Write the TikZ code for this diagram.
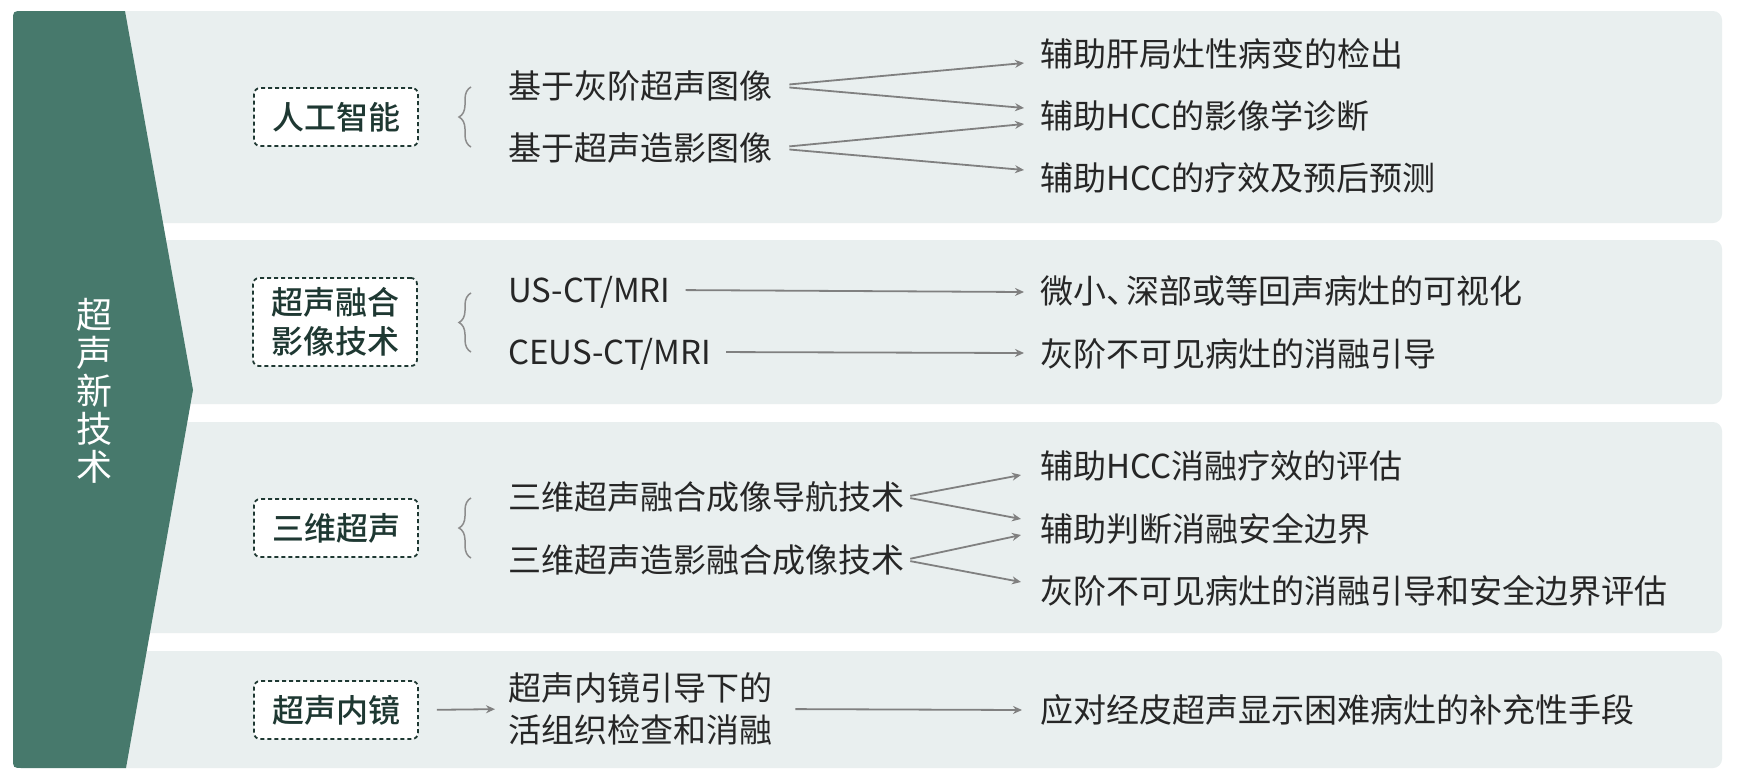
\documentclass[tikz,border=0pt]{standalone}
\usepackage{fontspec}
\setmainfont{Noto Sans CJK SC}
\newfontfamily\medfont{Noto Sans CJK SC Medium}
\usetikzlibrary{decorations.pathreplacing,arrows.meta,calc}
\definecolor{greenc}{RGB}{71,121,108}
\definecolor{panelc}{RGB}{233,239,239}
\definecolor{darkc}{RGB}{30,56,50}
\definecolor{textc}{RGB}{38,38,38}
\definecolor{arrowc}{RGB}{128,128,128}
\definecolor{bracec}{RGB}{140,140,140}
\begin{document}
\begin{tikzpicture}[x=1pt,y=-1pt,
  panel/.style={fill=panelc, rounded corners=9pt},
  catbox/.style={draw=darkc, dash pattern=on 4pt off 3pt, line width=1.8pt, fill=white,
    rounded corners=6pt, minimum width=164pt, minimum height=58pt, inner sep=0pt,
    font=\medfont\fontsize{32}{39}\selectfont, text=darkc, align=center},
  oneline/.style={text height=29pt, text depth=4pt},
  midtext/.style={anchor=west, inner sep=0pt, text=textc, font=\fontsize{33}{42}\selectfont, align=left},
  tgttext/.style={anchor=west, inner sep=0pt, text=textc, font=\fontsize{33}{42}\selectfont},
  arr/.style={draw=arrowc, line width=1.8pt, -{Stealth[length=9pt,width=8pt]}},
  br/.style={draw=bracec, line width=1.5pt, decorate, decoration={brace, amplitude=12pt}}]
\useasboundingbox (0,0) rectangle (1737,780);
\fill[white] (0,0) rectangle (1737,780);
% panels
\fill[panel] (100,11) rectangle (1722,223);
\fill[panel] (100,240) rectangle (1722,404);
\fill[panel] (100,422) rectangle (1722,633);
\fill[panel] (100,651) rectangle (1722,768);
% green band
\fill[greenc] (125,11) -- (193,390) -- (126,768) -- (23,768) .. controls (13,768) .. (13,758)
  -- (13,21) .. controls (13,11) .. (23,11) -- cycle;
\node[text=white, font=\fontsize{36}{38}\selectfont, align=center, inner sep=0pt] (title) at (94.5,391) {超\\声\\新\\技\\术};
% category boxes
\node[catbox] (c1) at (336,117) {人工智能};
\node[catbox, minimum height=88pt] (c2) at (335,322) {超声融合\\影像技术};
\node[catbox] (c3) at (336,528) {三维超声};
\node[catbox] (c4) at (336,710) {超声内镜};
% braces
\draw[br] (471,147) -- (471,87);
\draw[br] (471,352) -- (471,293);
\draw[br] (471,558) -- (471,498);
% middle texts
\node[midtext, oneline] (m1a) at (508,86) {基于灰阶超声图像};
\node[midtext, oneline] (m1b) at (508,148) {基于超声造影图像};
\node[midtext, oneline] (m2a) at (508,290) {US-CT/MRI};
\node[midtext, oneline] (m2b) at (508,352) {CEUS-CT/MRI};
\node[midtext, oneline] (m3a) at (508,497) {三维超声融合成像导航技术};
\node[midtext, oneline] (m3b) at (508,560) {三维超声造影融合成像技术};
\node[midtext] (m4) at (508,709) {超声内镜引导下的\\活组织检查和消融};
% targets
\node[tgttext, oneline] (t1a) at (1040,54) {辅助肝局灶性病变的检出};
\node[tgttext, oneline] (t1b) at (1040,116) {辅助HCC的影像学诊断};
\node[tgttext, oneline] (t1c) at (1040,178) {辅助HCC的疗效及预后预测};
\node[tgttext, oneline] (t2a) at (1040,291) {微小、\kern-13pt深部或等回声病灶的可视化};
\node[tgttext, oneline] (t2b) at (1040,354) {灰阶不可见病灶的消融引导};
\node[tgttext, oneline] (t3a) at (1040,466) {辅助HCC消融疗效的评估};
\node[tgttext, oneline] (t3b) at (1040,529) {辅助判断消融安全边界};
\node[tgttext, oneline] (t3c) at (1040,591) {灰阶不可见病灶的消融引导和安全边界评估};
\node[tgttext, oneline] (t4) at (1040,710) {应对经皮超声显示困难病灶的补充性手段};
% arrows panel 1
\draw[arr, shorten <=17pt] (m1a.east) -- ($(t1a.west)+(-16,9)$);
\draw[arr, shorten <=17pt] (m1a.east) -- ($(t1b.west)+(-16,-8)$);
\draw[arr, shorten <=17pt] (m1b.east) -- ($(t1b.west)+(-16,8)$);
\draw[arr, shorten <=17pt] (m1b.east) -- ($(t1c.west)+(-16,-8)$);
% panel 2
\draw[arr, shorten <=15pt] (m2a.east) -- ($(t2a.west)+(-16,1)$);
\draw[arr, shorten <=15pt] (m2b.east) -- ($(t2b.west)+(-16,-1)$);
% panel 3
\draw[arr, shorten <=6pt] (m3a.east) -- ($(t3a.west)+(-19,9)$);
\draw[arr, shorten <=6pt] (m3a.east) -- ($(t3b.west)+(-19,-10)$);
\draw[arr, shorten <=6pt] (m3b.east) -- ($(t3b.west)+(-19,6)$);
\draw[arr, shorten <=6pt] (m3b.east) -- ($(t3c.west)+(-19,-9)$);
% panel 4
\draw[arr, shorten <=18pt, shorten >=13pt] (c4.east) -- (m4.west);
\draw[arr, shorten <=23pt] (m4.east) -- ($(t4.west)+(-18,0)$);
\end{tikzpicture}
\end{document}
